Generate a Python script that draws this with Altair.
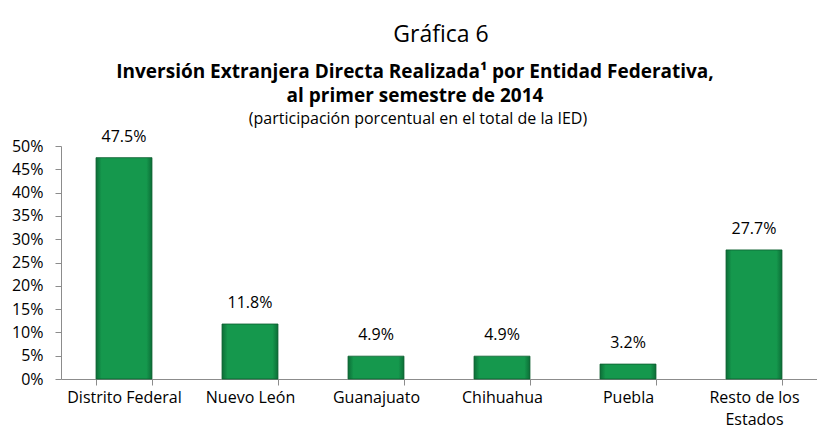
import altair as alt
import pandas as pd

categorias = ["Distrito Federal", "Nuevo León", "Guanajuato", "Chihuahua", "Puebla", "Resto de los Estados"]
participacion = [0.475, 0.118, 0.049, 0.049, 0.032, 0.277]
titulo = "Gráfica 6"
subtitulo_1 = "Inversión Extranjera Directa Realizada¹ por Entidad Federativa,"
subtitulo_2 = "al primer semestre de 2014"
subtitulo_3 = "(participación porcentual en el total de la IED)"
y_ticks = [0, 0.05, 0.10, 0.15, 0.20, 0.25, 0.30, 0.35, 0.40, 0.45, 0.50]

df = pd.DataFrame({"cat": categorias, "val": participacion})
FONT = "Open Sans"

grad = alt.Gradient(
    gradient="linear",
    stops=[
        alt.GradientStop(color="#0c6e37", offset=0),
        alt.GradientStop(color="#15984d", offset=0.1),
        alt.GradientStop(color="#15984d", offset=0.9),
        alt.GradientStop(color="#0c6e37", offset=1),
    ],
    x1=0, x2=1, y1=0, y2=0,
)

x = alt.X(
    "cat:N",
    sort=categorias,
    title=None,
    scale=alt.Scale(paddingInner=0.556, paddingOuter=0.278),
    axis=alt.Axis(
        labelAngle=0,
        labelFont=FONT,
        labelFontSize=16,
        labelColor="#000000",
        labelPadding=4,
        domainColor="#8c8c8c",
        tickColor="#8c8c8c",
        tickSize=6,
        tickBand="extent",
        labelExpr="datum.value == 'Resto de los Estados' ? ['Resto de los', 'Estados'] : datum.value",
        labelLineHeight=22,
    ),
)
y = alt.Y(
    "val:Q",
    title=None,
    scale=alt.Scale(domain=[0, 0.5], nice=False),
    axis=alt.Axis(
        values=y_ticks,
        format=".0%",
        grid=False,
        labelOverlap=False,
        labelFont=FONT,
        labelFontSize=16,
        labelColor="#000000",
        labelPadding=12,
        domainColor="#8c8c8c",
        tickColor="#8c8c8c",
        tickSize=6,
    ),
)

bars = alt.Chart(df).mark_bar(color=grad, stroke="#0b5e2e", strokeWidth=0.8).encode(x=x, y=y)
labels = alt.Chart(df).mark_text(
    font=FONT, fontSize=16, color="#000000", baseline="alphabetic", dy=-16
).encode(x=x, y=y, text=alt.Text("val:Q", format=".1%"))


def title_line(text, xpos, ypos, size, weight):
    return alt.Chart(pd.DataFrame({"t": [text]})).mark_text(
        font=FONT, fontSize=size, fontWeight=weight, color="#000000",
        align="center", baseline="alphabetic",
    ).encode(x=alt.value(xpos), y=alt.value(ypos), text="t:N")


t0 = title_line(titulo, 380, -104, 23, "normal")
t1 = title_line(subtitulo_1, 354, -68, 19, "bold")
t2 = title_line(subtitulo_2, 354, -44, 19, "bold")
t3 = title_line(subtitulo_3, 357, -22, 16, "normal")

chart = alt.layer(bars, labels, t0, t1, t2, t3).properties(
    width=756,
    height=233,
    autosize=alt.AutoSizeParams(type="none"),
    padding={"left": 61, "top": 146, "right": 0, "bottom": 49},
    background="#ffffff",
).configure_view(stroke=None)

chart.save("out.html", embed_options={"renderer": "svg", "actions": False})
